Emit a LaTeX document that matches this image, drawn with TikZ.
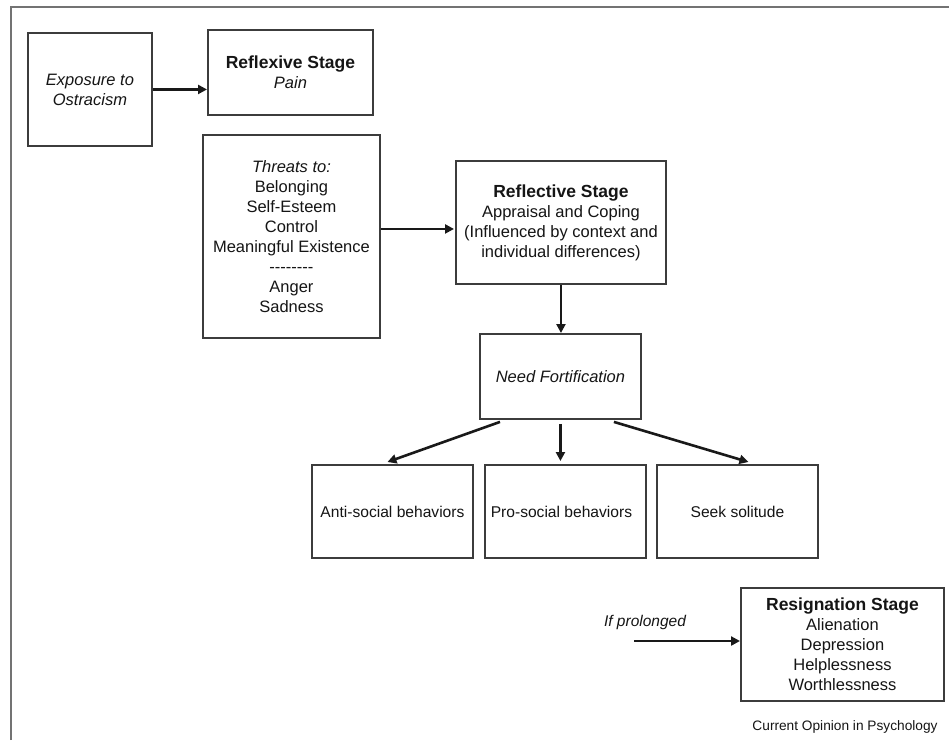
\documentclass[tikz,border=0pt]{standalone}
\usepackage{fontspec}
\setmainfont{Liberation Sans}
\usetikzlibrary{arrows.meta,calc}
\definecolor{boxline}{HTML}{3C3C3C}
\definecolor{txt}{HTML}{151515}
\tikzset{
  box/.style={draw=boxline, line width=1.9pt, inner sep=0pt, align=center,
    text=txt, font=\fontsize{16.5}{20}\selectfont, anchor=north west},
  arr/.style={line width=2.6pt, draw=black!90, -{Triangle[length=9pt,width=9pt]}}
}
\newcommand{\ttlfont}{\fontsize{17.5}{20}\selectfont\bfseries}
\begin{document}
\begin{tikzpicture}[x=1pt,y=-1pt]
\useasboundingbox (0,0) rectangle (949,740);
\fill[white] (0,0) rectangle (949,740);
% outer frame
\draw[draw=black!55, line width=1.5pt] (11,740) -- (11,7) -- (949,7);

\node[box, minimum width=124pt, minimum height=113pt] (ex) at (27,32)
  {\itshape Exposure to\\\itshape Ostracism};
\node[box, minimum width=165pt, minimum height=85pt] (rx) at (207,29)
  {{\ttlfont Reflexive Stage}\\\itshape Pain};
\node[box, minimum width=177pt, minimum height=203pt] (th) at (202,134)
  {\itshape Threats to:\\Belonging\\Self-Esteem\\Control\\Meaningful Existence\\{-}{-}{-}{-}{-}{-}{-}{-}\\Anger\\Sadness};
\node[box, minimum width=210pt, minimum height=123pt] (rf) at (455,160)
  {{\ttlfont Reflective Stage}\\Appraisal and Coping\\(Influenced by context and\\individual differences)};
\node[box, minimum width=161pt, minimum height=85pt] (nf) at (479,333)
  {\itshape Need Fortification};
\node[box, minimum width=161pt, minimum height=93pt, font=\fontsize{15.6}{18}\selectfont] (an) at (311,464)
  {Anti-social behaviors};
\node[box, minimum width=161pt, minimum height=93pt, font=\fontsize{15.6}{18}\selectfont] (pr) at (484,464)
  {Pro-social behaviors\hspace*{8pt}};
\node[box, minimum width=161pt, minimum height=93pt, font=\fontsize{15.6}{18}\selectfont] (sk) at (656,464)
  {Seek solitude};
\node[box, minimum width=203pt, minimum height=113pt] (rs) at (740,587)
  {{\ttlfont Resignation Stage}\\Alienation\\Depression\\Helplessness\\Worthlessness};

\node[font=\fontsize{15.5}{18}\selectfont\itshape, text=txt] (ip) at (645,622) {If prolonged};
\node[font=\fontsize{13.7}{16}\selectfont, text=txt] (cop) at (845,727) {Current Opinion in Psychology};

% connectors
\coordinate (a0) at ($(ex.east)$);
\draw[arr] (a0) -- (a0 -| rx.west);
\coordinate (a1) at ([yshift=7.5pt]th.east);
\draw[arr] (a1) -- ([xshift=-1pt]a1 -| rf.west);
\draw[arr] (rf.south) -- (rf.south |- nf.north);
\draw[arr] ([xshift=21pt,yshift=-2pt]nf.south west) -- ([xshift=-5pt,yshift=2pt]an.north);
\draw[arr] ([yshift=-4pt]nf.south) -- ([yshift=3pt]nf.south |- pr.north);
\draw[arr] ([xshift=-28pt,yshift=-2pt]nf.south east) -- ([xshift=11pt,yshift=2pt]sk.north);
\coordinate (p0) at (634,641);
\draw[arr] (p0) -- (p0 -| rs.west);
\end{tikzpicture}
\end{document}
